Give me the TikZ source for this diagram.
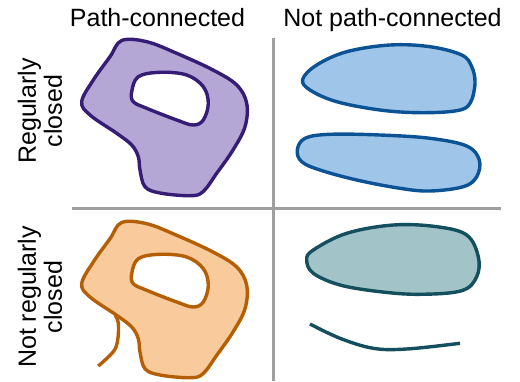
\documentclass[tikz,border=0pt]{standalone}
\usepackage{fontspec}
\setmainfont{Liberation Sans}
\begin{document}
\begin{tikzpicture}[x=1pt,y=-1pt,
  lbl/.style={inner sep=0pt,font=\fontsize{25}{26}\selectfont},
  sidelbl/.style={lbl,rotate=90,align=center},
  divider/.style={draw=gray!75,line width=3pt},
  region/.style={line width=3.4pt,line join=round},
  purplereg/.style={region,draw=purpleD,fill=purpleL},
  bluereg/.style={region,draw=blueD,fill=blueL},
  orangereg/.style={region,draw=orangeD,fill=orangeL},
  tealreg/.style={region,draw=tealD,fill=tealL},
  curve/.style={region,line cap=butt}]
\definecolor{purpleD}{HTML}{351C75}
\definecolor{purpleL}{HTML}{B4A7D6}
\definecolor{blueD}{HTML}{0B5394}
\definecolor{blueL}{HTML}{9FC5E8}
\definecolor{orangeD}{HTML}{B45F06}
\definecolor{orangeL}{HTML}{F9CB9C}
\definecolor{tealD}{HTML}{134F5C}
\definecolor{tealL}{HTML}{A2C4C9}
\useasboundingbox (0,0) rectangle (520,381);

% column and row headings
\node[lbl,anchor=base] (colA) at (157.5,26) {Path-connected};
\node[lbl,anchor=base] (colB) at (392.5,26) {Not path-connected};
\node[sidelbl] (rowA) at (40,111) {Regularly\\closed};
\node[sidelbl] (rowB) at (40,297) {Not regularly\\closed};

% dividing lines
\coordinate (vtop) at (273,38);
\coordinate (vbot) at (273,381);
\coordinate (hleft) at (72,208);
\coordinate (hright) at (501,208);
\draw[divider] (vtop) -- (vbot);
\draw[divider] (hleft) -- (hright);

% path-connected, regularly closed: annulus-like region
\begin{scope}
\draw[purplereg] plot[smooth cycle,tension=0.6] coordinates {
  (81.7,101.7) (93.3,80) (110,56.7) (121.7,40.5) (146.7,41.7) (176.7,53.3)
  (213,70) (236.7,85) (246.7,103.3) (245,126.7) (233,150) (216.7,173.3)
  (203,191.7) (190,195.7) (160,193) (145,186.7) (140,170) (138.3,156.7)
  (131.7,145) (116.7,133.3) (90,115)};
\draw[purplereg,fill=white] plot[smooth cycle,tension=0.6] coordinates {
  (131.7,91.7) (138.3,76.7) (160,72.3) (186.7,75) (203.3,86.7) (208.3,103.3)
  (203.3,120) (193.3,125) (176.7,120) (146.7,108.3) (133.3,101.7)};
\end{scope}

% path-connected, not regularly closed: same region with a whisker
\begin{scope}[yshift=-182pt]
\draw[orangereg] plot[smooth cycle,tension=0.6] coordinates {
  (81.7,101.7) (93.3,80) (110,56.7) (121.7,40.5) (146.7,41.7) (176.7,53.3)
  (213,70) (236.7,85) (246.7,103.3) (245,126.7) (233,150) (216.7,173.3)
  (203,191.7) (190,195.7) (160,193) (145,186.7) (140,170) (138.3,156.7)
  (131.7,145) (116.7,133.3) (90,115)};
\draw[orangereg,fill=white] plot[smooth cycle,tension=0.6] coordinates {
  (131.7,91.7) (138.3,76.7) (160,72.3) (186.7,75) (203.3,86.7) (208.3,103.3)
  (203.3,120) (193.3,125) (176.7,120) (146.7,108.3) (133.3,101.7)};
\draw[curve,draw=orangeD] plot[smooth,tension=0.6] coordinates {
  (115,133) (118.3,141) (117.7,158) (113.3,169.7) (98.3,184)};
\end{scope}

% not path-connected, regularly closed: two blobs
\draw[bluereg] plot[smooth cycle,tension=0.6] coordinates {
  (302.7,79.3) (316.7,65) (346.7,51.7) (390,45) (430,46.7) (461.7,55)
  (471.7,66.7) (475,83.3) (470,103.3) (456.7,110.7) (420,112.7) (380,110)
  (336.7,101.7) (310,90)};
\draw[bluereg] plot[smooth cycle,tension=0.6] coordinates {
  (297.3,150) (305,138.3) (330,134.3) (380,135) (430,138.3) (466.7,146)
  (479.3,160) (476.7,176.7) (463.3,186.7) (430,191) (400,188.3) (356.7,180)
  (320,170) (301.7,161.7)};

% not path-connected, not regularly closed: blob and a curve
\draw[tealreg] plot[smooth cycle,tension=0.6] coordinates {
  (306.7,260) (313.3,250) (346.7,233.3) (393.3,225) (436.7,226.7) (466.7,235)
  (478.3,256.7) (476.7,276.7) (461.7,290.7) (420,294.3) (380,291.7) (340,285)
  (313.3,273.3)};
\draw[curve,draw=tealD] plot[smooth,tension=0.6] coordinates {
  (310,324) (340,338.3) (373.3,348.3) (406.7,349) (460,343.3)};
\end{tikzpicture}
\end{document}
